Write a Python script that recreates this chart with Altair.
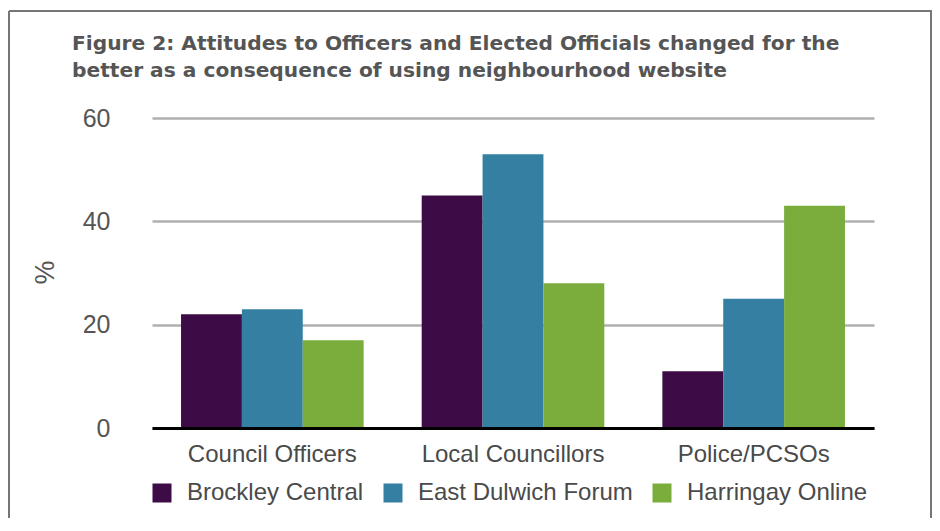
import altair as alt
import pandas as pd

categories = ["Council Officers", "Local Councillors", "Police/PCSOs"]
series = ["Brockley Central", "East Dulwich Forum", "Harringay Online"]
brockley = [22, 45, 11]
dulwich = [23, 53, 25]
harringay = [17, 28, 43]
colors = ["#3d0c46", "#357fa2", "#7aad3c"]
y_ticks = [0, 20, 40, 60]

rows = []
for s, vals in zip(series, [brockley, dulwich, harringay]):
    for c, v in zip(categories, vals):
        rows.append({"category": c, "series": s, "value": v})
df = pd.DataFrame(rows)

FONT = "Liberation Sans"
FRAME = "#767676"

bars = alt.Chart(df).mark_bar().encode(
    x=alt.X("category:N", sort=categories,
            scale=alt.Scale(paddingInner=0, paddingOuter=0),
            axis=alt.Axis(title=None, labelAngle=0, labelFontSize=24, labelColor="#4a4a4a",
                          labelFont=FONT, ticks=False, tickSize=0, labelPadding=14,
                          labelLimit=0,
                          domainColor="#000000", domainWidth=3, zindex=2)),
    xOffset=alt.XOffset("series:N", sort=series,
                        scale=alt.Scale(paddingInner=0, paddingOuter=0.477)),
    y=alt.Y("value:Q", scale=alt.Scale(domain=[0, 60], nice=False),
            axis=alt.Axis(values=y_ticks, title="%", titleFont=FONT, titleFontSize=27,
                          titleFontWeight="normal", titleColor="#555555",
                          titleX=-107, titleY=154, titleAlign="center", titleBaseline="middle",
                          titleAngle=270,
                          labelFontSize=25, labelColor="#555555", labelFont=FONT,
                          ticks=False, tickSize=0, labelPadding=42, domain=False,
                          grid=True, gridColor="#b0b0b0", gridWidth=2.5)),
    color=alt.Color("series:N", sort=series,
                    scale=alt.Scale(domain=series, range=colors),
                    legend=alt.Legend(title=None, orient="none", direction="horizontal",
                                      legendX=-2, legendY=363,
                                      symbolType="square", symbolSize=361,
                                      symbolStrokeWidth=0, symbolOpacity=1,
                                      labelFontSize=24, labelColor="#4a4a4a", labelFont=FONT,
                                      labelLimit=0,
                                      labelOffset=13, columnPadding=17, padding=0)),
)

one = alt.Data(values=[{"k": 1}])
frame_top = alt.Chart(one).mark_rule(color=FRAME, strokeWidth=2).encode(
    x=alt.value(-143), x2=alt.value(780), y=alt.value(-107))
frame_left = alt.Chart(one).mark_rule(color=FRAME, strokeWidth=2).encode(
    x=alt.value(-143), y=alt.value(-107), y2=alt.value(400))
frame_right = alt.Chart(one).mark_rule(color=FRAME, strokeWidth=2).encode(
    x=alt.value(779), y=alt.value(-107), y2=alt.value(400))

chart = alt.layer(bars, frame_top, frame_left, frame_right).properties(
    width=722, height=310,
    autosize=alt.AutoSizeParams(type="none"),
    padding={"left": 144, "top": 110, "right": 58, "bottom": 95},
    title=alt.TitleParams(
        ["Figure 2: Attitudes to Officers and Elected Officials changed for the",
         "better as a consequence of using neighbourhood website"],
        anchor="start", frame="group", font="DejaVu Sans", fontSize=20.2, fontWeight="bold",
        color="#555555", lineHeight=27, dx=-80, offset=0, dy=87, baseline="alphabetic"),
).configure_view(strokeWidth=0)

chart.save("out.html", embed_options={"renderer": "svg", "actions": False})
